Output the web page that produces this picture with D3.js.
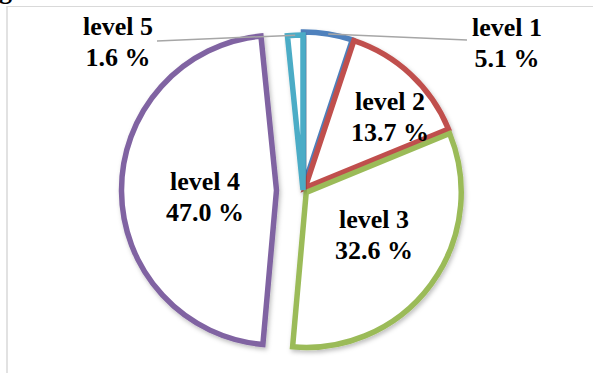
<!DOCTYPE html>
<html>
<head>
<meta charset="utf-8">
<script src="https://cdn.jsdelivr.net/npm/d3@7/dist/d3.min.js"></script>
<style>
  html, body { margin: 0; padding: 0; background: #fff; }
  svg { display: block; }
  text { font-family: "Liberation Serif", "Times New Roman", serif; font-weight: bold; fill: #000; }
</style>
</head>
<body>
<script>
// ---- data ----
const categories = ["level 1", "level 2", "level 3", "level 4", "level 5"];
const values = [5.1, 13.7, 32.6, 47.0, 1.6];
const valueLabels = ["5.1 %", "13.7 %", "32.6 %", "47.0 %", "1.6 %"];

// ---- style / layout ----
const colors = ["#4F81BD", "#C0504D", "#9BBB59", "#8064A2", "#4BACC6"];
const explode = [3, 3, 4, 26.5, 0];
const W = 593, H = 373;
const cx = 303, cy = 190, R = 155;
// label anchor (center x, first baseline y) for each category
const labelPos = [[507, 36], [390, 110], [374, 228], [205, 190], [118, 35]];
const leaderEnd = [[467, 40], null, null, null, [157, 41]];

const svg = d3.select("body").append("svg").attr("width", W).attr("height", H);

const defs = svg.append("defs");
const f = defs.append("filter").attr("id", "sh").attr("x", "-20%").attr("y", "-20%").attr("width", "140%").attr("height", "140%");
f.append("feDropShadow").attr("dx", 1.5).attr("dy", 2.5).attr("stdDeviation", 2)
  .attr("flood-color", "#000").attr("flood-opacity", 0.25);

// chart area border (partially visible)
svg.append("line").attr("x1", 7).attr("y1", 6.5).attr("x2", W + 5).attr("y2", 6.5)
  .attr("stroke", "#d9d9d9").attr("stroke-width", 1.2);
svg.append("line").attr("x1", 7).attr("y1", 6).attr("x2", 7).attr("y2", H + 5)
  .attr("stroke", "#d9d9d9").attr("stroke-width", 1.5);

// clipped title remnant (cut off in the reference too)
svg.append("text").attr("x", -1).attr("y", -1).style("font-size", "26px").text("g");

const pie = d3.pie().sort(null).value(d => d).startAngle(0).endAngle(2 * Math.PI);
const arcs = pie(values);
const arc = d3.arc().innerRadius(0).outerRadius(R);

function offset(d, i) {
  const a = (d.startAngle + d.endAngle) / 2;
  return [cx + explode[i] * Math.sin(a), cy - explode[i] * Math.cos(a)];
}

svg.append("g").selectAll("path").data(arcs).join("path")
  .attr("transform", (d, i) => `translate(${offset(d, i)})`)
  .attr("d", arc)
  .attr("fill", "#fff")
  .attr("stroke", (d, i) => colors[i])
  .attr("stroke-width", 5.5)
  .attr("stroke-linejoin", "miter")
  .attr("filter", "url(#sh)");

// leader lines (cross slice tops in reference)
arcs.forEach((d, i) => {
  if (!leaderEnd[i]) return;
  const o = offset(d, i);
  const a = (d.startAngle + d.endAngle) / 2;
  const p = [o[0] + R * Math.sin(a), o[1] - R * Math.cos(a)];
  svg.append("line").attr("x1", p[0]).attr("y1", p[1])
    .attr("x2", leaderEnd[i][0]).attr("y2", leaderEnd[i][1])
    .attr("stroke", "#a6a6a6").attr("stroke-width", 1.5);
});

const lg = svg.append("g");
categories.forEach((c, i) => {
  const [x, y] = labelPos[i];
  const t = lg.append("text").attr("text-anchor", "middle").style("font-size", "26px");
  t.append("tspan").attr("x", x).attr("y", y).text(c);
  t.append("tspan").attr("x", x).attr("y", y + 31).text(valueLabels[i]);
});
</script>
</body>
</html>
